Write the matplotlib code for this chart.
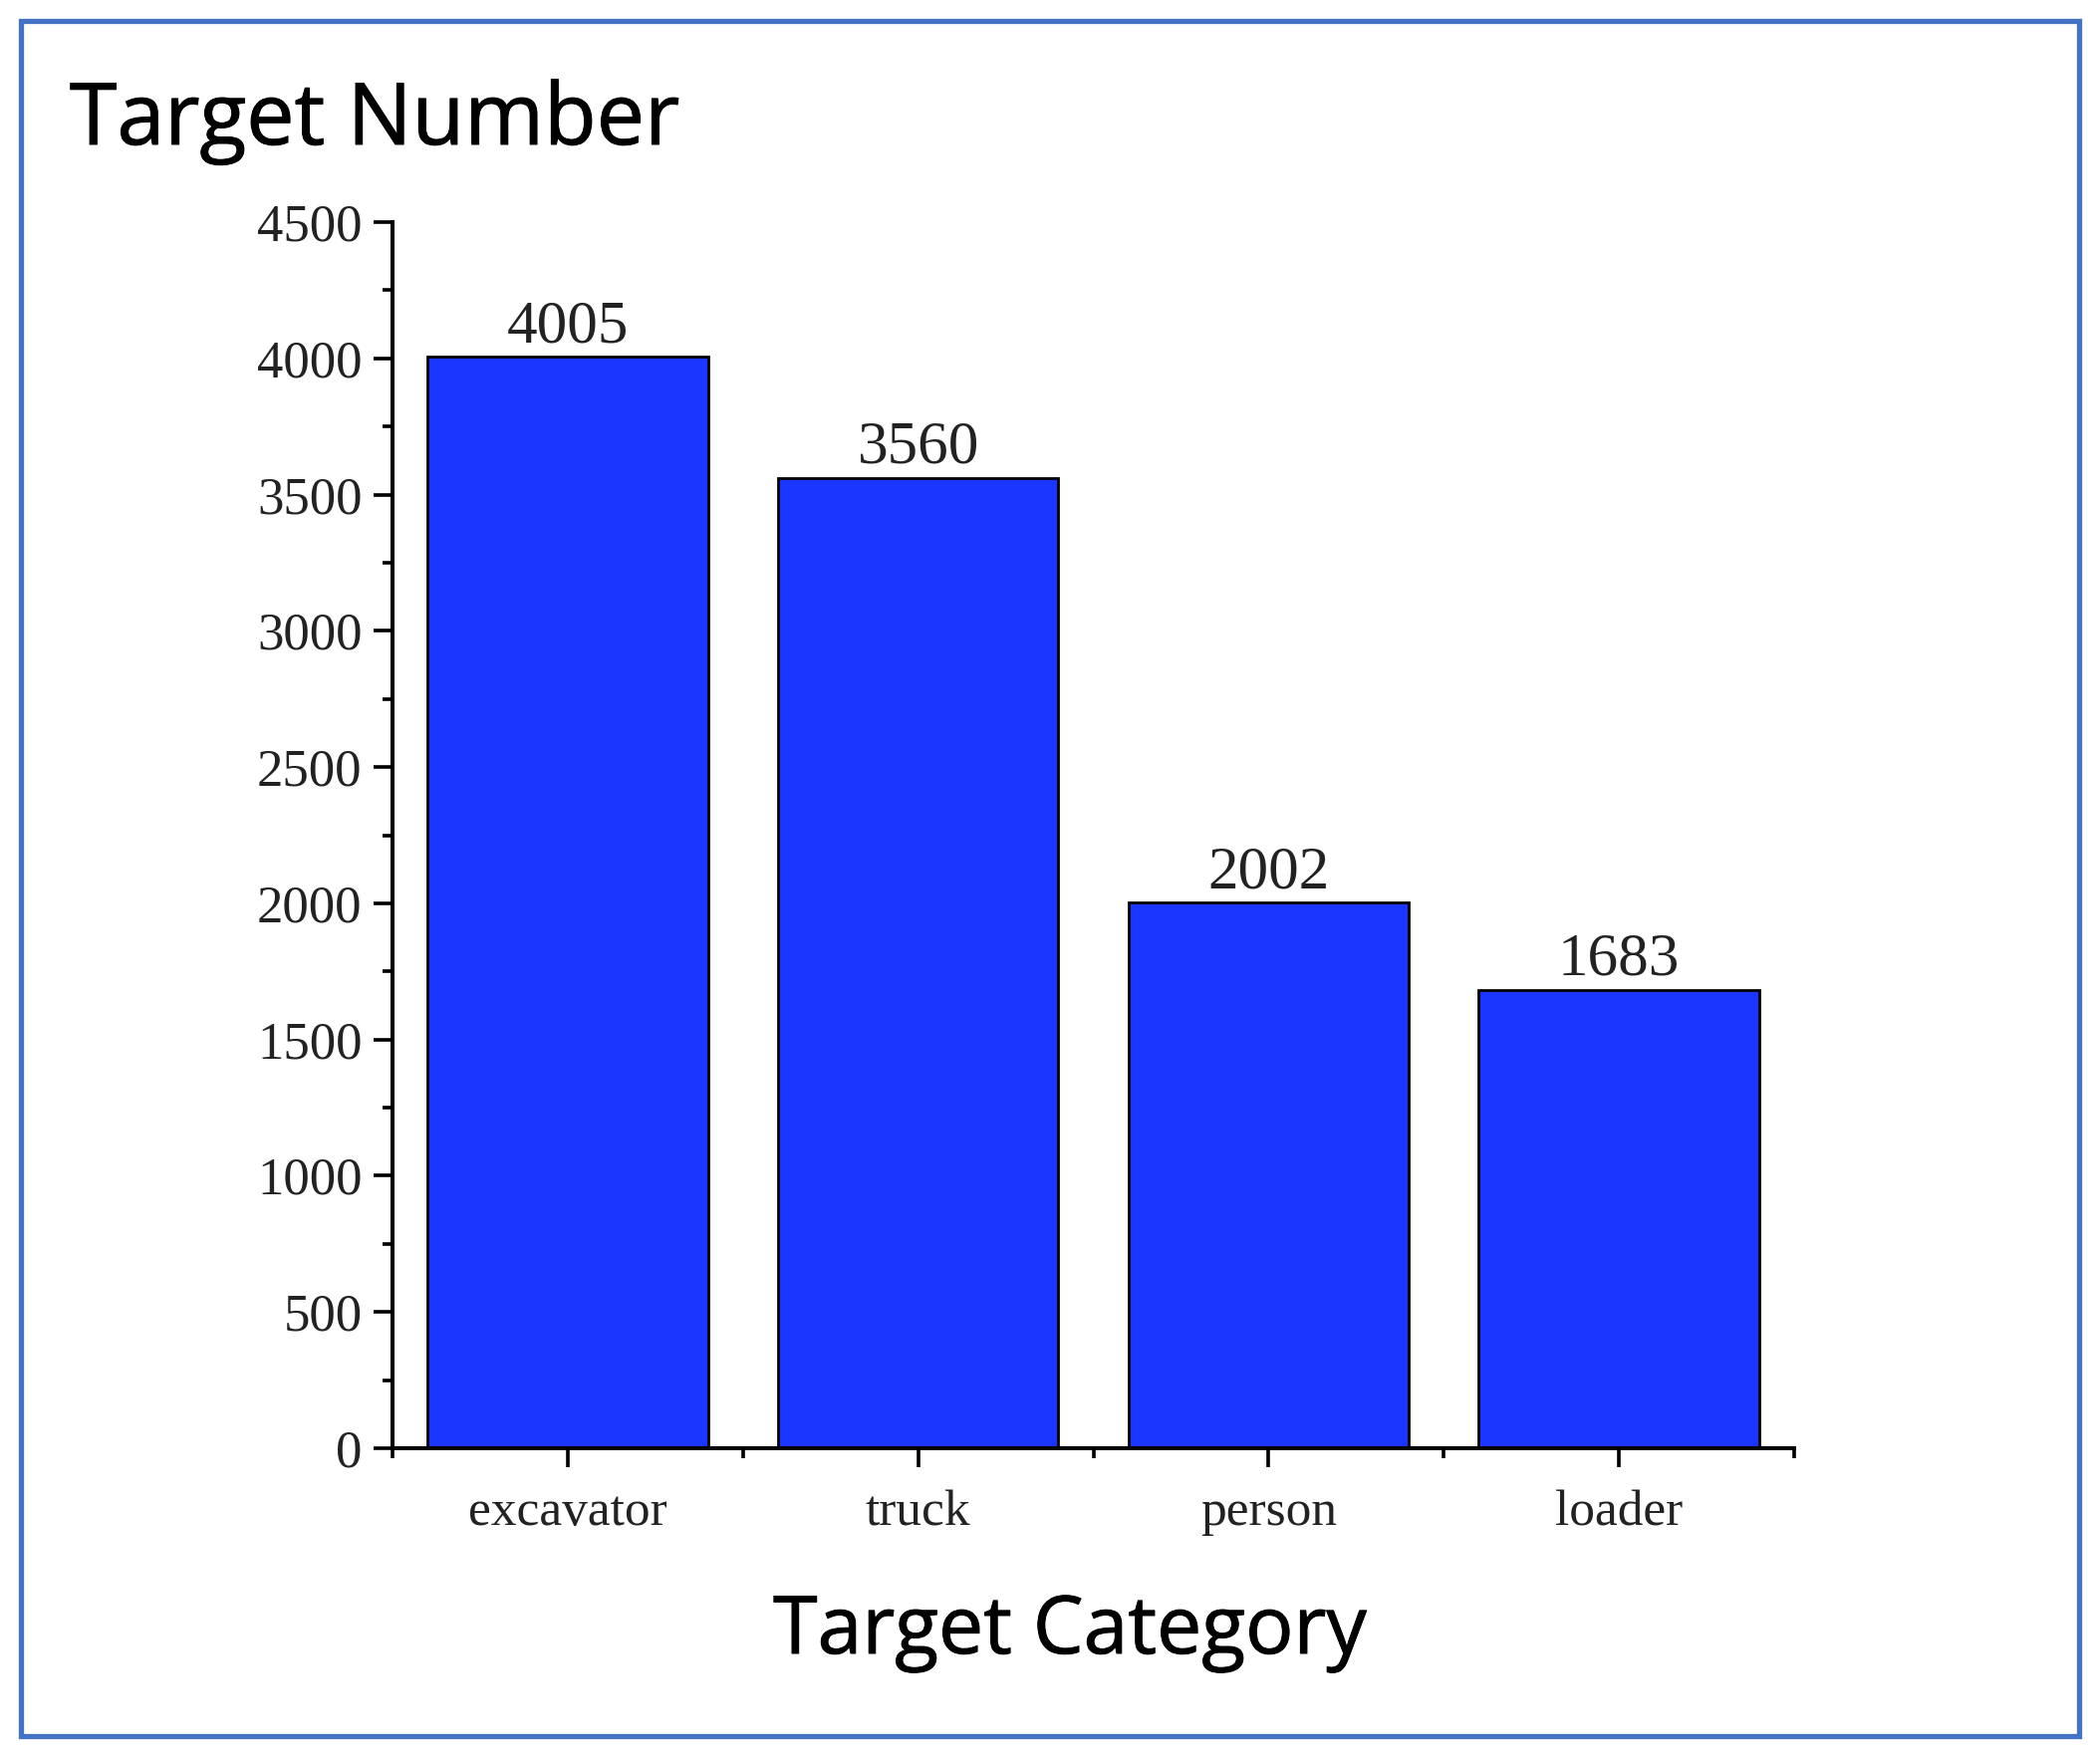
import matplotlib
matplotlib.use('Agg')
import matplotlib.pyplot as plt
import matplotlib.patheffects as pe
from matplotlib.patches import Rectangle
from matplotlib.ticker import MultipleLocator, FixedLocator

categories = ['excavator', 'truck', 'person', 'loader']
counts = [4005, 3560, 2002, 1683]
y_ticks = [0, 500, 1000, 1500, 2000, 2500, 3000, 3500, 4000, 4500]

W, H = 2108, 1764
fig = plt.figure(figsize=(W / 100, H / 100), dpi=100)

# axes placed to match the reference pixel layout
ax = fig.add_axes([394 / W, 1 - 1454 / H, (1801 - 394) / W, (1454 - 223) / H])

x = list(range(len(categories)))
bars = ax.bar(x, counts, width=0.8, color='#1a36ff', edgecolor='black', linewidth=2, zorder=2)

for xi, v in zip(x, counts):
    ax.text(xi, v + 8, str(v), ha='center', va='bottom',
            family='Liberation Serif', fontsize=44, color='#222222')

ax.set_xlim(-0.5, 3.5)
ax.set_ylim(0, 4500)
ax.set_yticks(y_ticks)
ax.yaxis.set_minor_locator(MultipleLocator(250))
ax.set_xticks(x)
ax.set_xticklabels(categories)
ax.xaxis.set_minor_locator(FixedLocator([-0.5, 0.5, 1.5, 2.5, 3.5]))

for side in ['top', 'right']:
    ax.spines[side].set_visible(False)
for side in ['left', 'bottom']:
    ax.spines[side].set_linewidth(2.9)

ax.tick_params(which='major', length=14, width=2.6, direction='out')
ax.tick_params(which='minor', length=7, width=2.6, direction='out')
ax.tick_params(axis='y', which='major', pad=8)
ax.tick_params(axis='x', which='major', pad=16)
for lab in ax.get_yticklabels():
    lab.set_family('Liberation Serif')
    lab.set_fontsize(38)
    lab.set_color('#222222')
for lab in ax.get_xticklabels():
    lab.set_family('Liberation Serif')
    lab.set_fontsize(37)
    lab.set_color('#222222')

# headings look a little heavier than regular Open Sans
heavy = [pe.withStroke(linewidth=0.7, foreground='black')]
fig.text(70 / W, 1 - 145 / H, 'Target Number', family='Open Sans', fontsize=62,
         ha='left', va='baseline', path_effects=heavy)
fig.text(1074 / W, 1 - 1660 / H, 'Target Category', family='Open Sans', fontsize=58,
         ha='center', va='baseline', path_effects=heavy)

# blue frame around the picture
fig.patches.append(Rectangle((21 / W, 1 - 1743 / H), (2087 - 21) / W, (1743 - 21) / H,
                             transform=fig.transFigure, fill=False,
                             edgecolor='#4472c4', linewidth=3.8))

fig.savefig('out.png', dpi=100)
